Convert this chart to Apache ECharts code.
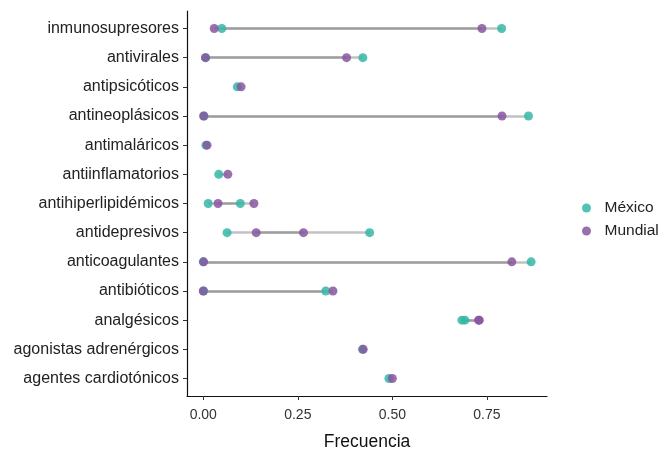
<!DOCTYPE html>
<html>
<head>
    <meta charset="utf-8">
    <title>Frecuencia por grupo terapéutico</title>
    <script src="https://cdn.jsdelivr.net/npm/echarts/dist/echarts.min.js"></script>
    <style>
        html, body { margin: 0; padding: 0; background: #fff; }
        #chart { width: 660px; height: 452px; }
    </style>
</head>
<body>
<div id="chart"></div>
<script>
    // categorías, de arriba hacia abajo
    var categorias = ['inmunosupresores', 'antivirales', 'antipsicóticos', 'antineoplásicos',
        'antimaláricos', 'antiinflamatorios', 'antihiperlipidémicos', 'antidepresivos',
        'anticoagulantes', 'antibióticos', 'analgésicos', 'agonistas adrenérgicos',
        'agentes cardiotónicos'];

    // primer fármaco de cada categoría
    var mexico1  = [0.049, 0.006, 0.090, 0.002, 0.007, 0.041, 0.013, 0.063, 0.000, 0.324, 0.684, 0.421, 0.491];
    var mundial1 = [0.737, 0.379, 0.100, 0.790, 0.010, 0.065, 0.134, 0.265, 0.816, 0.000, 0.730, 0.423, 0.500];
    // segundo fármaco (null si no hay)
    var mexico2  = [0.789, 0.422, null, 0.860, null, null, 0.098, 0.440, 0.867, 0.001, 0.692, null, null];
    var mundial2 = [0.029, 0.006, null, 0.001, null, null, 0.039, 0.140, 0.001, 0.343, 0.728, null, null];

    var ticksX = [0, 0.25, 0.5, 0.75];
    var ticksY = categorias.map(function (c, i) { return i; });

    var fuente = '"Liberation Sans", Arial, Helvetica, sans-serif';

    var segmentos = [];
    var ptsMexico = [];
    var ptsMundial = [];
    [[mexico1, mundial1], [mexico2, mundial2]].forEach(function (par) {
        for (var i = 0; i < categorias.length; i++) {
            if (par[0][i] == null) continue;
            segmentos.push({ coords: [[par[0][i], i], [par[1][i], i]] });
            ptsMexico.push([par[0][i], i]);
            ptsMundial.push([par[1][i], i]);
        }
    });

    var myChart = echarts.init(document.getElementById('chart'));
    var option = {
        animation: false,
        textStyle: { fontFamily: fuente },
        grid: { left: 187, right: 113, top: 11, bottom: 56, outerBoundsMode: 'none' },
        legend: {
            orient: 'vertical',
            left: 577,
            top: 195,
            icon: 'circle',
            itemWidth: 26,
            itemHeight: 9,
            itemGap: 7,
            data: ['México', 'Mundial'],
            textStyle: { fontFamily: fuente, fontSize: 15.5, color: '#222', lineHeight: 16 }
        },
        xAxis: {
            type: 'value',
            min: -0.043,
            max: 0.909,
            name: 'Frecuencia',
            nameLocation: 'middle',
            nameGap: 37,
            nameTextStyle: { fontFamily: fuente, fontSize: 17.5, color: '#111' },
            splitLine: { show: false },
            axisLine: { show: true, onZero: false, lineStyle: { color: '#111', width: 1.2 } },
            axisTick: { show: true, length: 4, customValues: ticksX, lineStyle: { color: '#333' } },
            axisLabel: {
                customValues: ticksX,
                fontFamily: fuente,
                fontSize: 14,
                color: '#333',
                margin: 12,
                formatter: function (v) { return v.toFixed(2); }
            }
        },
        yAxis: {
            type: 'value',
            inverse: true,
            min: -0.6,
            max: 12.6,
            splitLine: { show: false },
            axisLine: { show: true, onZero: false, lineStyle: { color: '#111', width: 1.2 } },
            axisTick: { show: true, length: 4, customValues: ticksY, lineStyle: { color: '#333' } },
            axisLabel: {
                customValues: ticksY,
                fontFamily: fuente,
                fontSize: 16,
                color: '#222',
                margin: 8,
                formatter: function (v) { return categorias[Math.round(v)]; }
            }
        },
        series: [
            {
                name: 'segmentos',
                type: 'lines',
                coordinateSystem: 'cartesian2d',
                polyline: false,
                silent: true,
                lineStyle: { color: '#666', width: 2.5, opacity: 0.4 },
                data: segmentos
            },
            {
                name: 'México',
                type: 'scatter',
                symbolSize: 9,
                itemStyle: { color: '#35b6a6', opacity: 0.85 },
                data: ptsMexico
            },
            {
                name: 'Mundial',
                type: 'scatter',
                symbolSize: 9,
                itemStyle: { color: '#8856a0', opacity: 0.85 },
                data: ptsMundial
            }
        ]
    };
    myChart.setOption(option);
</script>
</body>
</html>
